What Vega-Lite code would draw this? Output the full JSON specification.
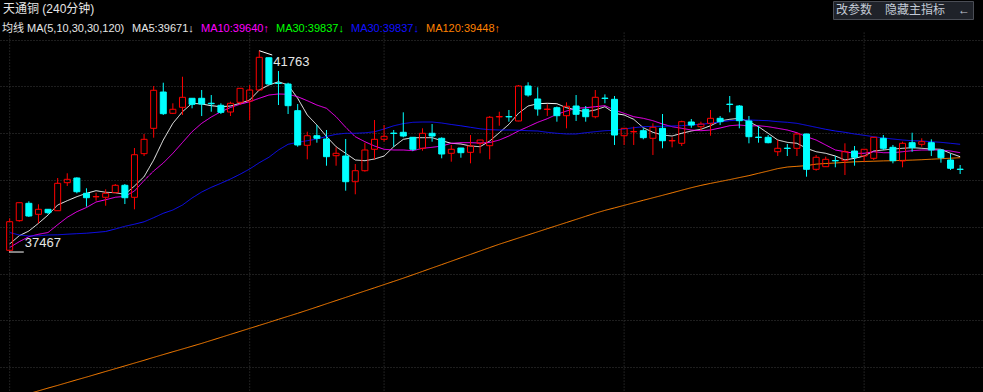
{
"$schema": "https://vega.github.io/schema/vega-lite/v6.json",
"width": 983, "height": 392, "autosize": {"type": "none"}, "padding": 0,
"background": "#000000",
"config": {"view": {"stroke": null},
 "axisX": {"domain": false, "ticks": false, "labels": false, "title": null, "grid": false},
 "axisY": {"domain": false, "ticks": false, "labels": false, "title": null, "grid": true, "gridColor": "#3c3c3c", "gridDash": [1, 2], "tickCount": 9}},
"title": {"text": "天通铜 (240分钟)", "anchor": "start", "frame": "group", "orient": "top", "offset": -16, "dx": 3, "color": "#e6e6e6", "fontSize": 12, "fontWeight": "normal", "font": "Liberation Sans, Noto Sans CJK SC"},
"datasets": {
"k": [
{"i":0,"o":37497,"h":38181,"l":37467,"c":38108,"m5":37632,"m10":37557,"m30":37877,"m120":null},
{"i":1,"o":38130,"h":38520,"l":38108,"c":38514,"m5":37809,"m10":37681,"m30":37824,"m120":null},
{"i":2,"o":38501,"h":38544,"l":38209,"c":38230,"m5":37909,"m10":37788,"m30":37803,"m120":34432},
{"i":3,"o":38266,"h":38480,"l":38074,"c":38373,"m5":38074,"m10":37839,"m30":37807,"m120":34492},
{"i":4,"o":38373,"h":38380,"l":38266,"c":38301,"m5":38251,"m10":37877,"m30":37824,"m120":34552},
{"i":5,"o":38343,"h":39042,"l":38340,"c":38929,"m5":38465,"m10":38044,"m30":37828,"m120":34609},
{"i":6,"o":38942,"h":39143,"l":38871,"c":39014,"m5":38557,"m10":38202,"m30":37841,"m120":34669},
{"i":7,"o":39042,"h":39057,"l":38715,"c":38749,"m5":38643,"m10":38322,"m30":37852,"m120":34729},
{"i":8,"o":38715,"h":38822,"l":38429,"c":38621,"m5":38715,"m10":38412,"m30":37862,"m120":34787},
{"i":9,"o":38640,"h":38728,"l":38557,"c":38645,"m5":38771,"m10":38529,"m30":37880,"m120":34847},
{"i":10,"o":38630,"h":38801,"l":38450,"c":38715,"m5":38737,"m10":38578,"m30":37899,"m120":34907},
{"i":11,"o":38728,"h":38914,"l":38720,"c":38886,"m5":38728,"m10":38630,"m30":37952,"m120":34966},
{"i":12,"o":38886,"h":38914,"l":38486,"c":38621,"m5":38694,"m10":38651,"m30":38010,"m120":35026},
{"i":13,"o":38630,"h":39683,"l":38373,"c":39540,"m5":38871,"m10":38764,"m30":38055,"m120":35086},
{"i":14,"o":39562,"h":39983,"l":39512,"c":39869,"m5":39070,"m10":38989,"m30":38106,"m120":35146},
{"i":15,"o":40104,"h":41009,"l":39904,"c":40917,"m5":39427,"m10":39192,"m30":38194,"m120":35208},
{"i":16,"o":40880,"h":41079,"l":40389,"c":40417,"m5":39854,"m10":39363,"m30":38288,"m120":35268},
{"i":17,"o":40425,"h":40639,"l":40410,"c":40511,"m5":40211,"m10":39570,"m30":38358,"m120":35328},
{"i":18,"o":40553,"h":41207,"l":40389,"c":40767,"m5":40459,"m10":39801,"m30":38465,"m120":35387},
{"i":19,"o":40746,"h":40750,"l":40532,"c":40617,"m5":40639,"m10":40032,"m30":38615,"m120":35447},
{"i":20,"o":40746,"h":40923,"l":40367,"c":40624,"m5":40624,"m10":40211,"m30":38743,"m120":35507},
{"i":21,"o":40640,"h":40816,"l":40459,"c":40630,"m5":40588,"m10":40346,"m30":38843,"m120":35571},
{"i":22,"o":40596,"h":40639,"l":40410,"c":40446,"m5":40566,"m10":40459,"m30":38929,"m120":35635},
{"i":23,"o":40453,"h":40673,"l":40367,"c":40639,"m5":40581,"m10":40549,"m30":39021,"m120":35700},
{"i":24,"o":40660,"h":40965,"l":40602,"c":40959,"m5":40639,"m10":40620,"m30":39123,"m120":35764},
{"i":25,"o":40688,"h":41030,"l":40282,"c":40923,"m5":40709,"m10":40673,"m30":39235,"m120":35828},
{"i":26,"o":40923,"h":41763,"l":40915,"c":41622,"m5":40923,"m10":40746,"m30":39369,"m120":35892},
{"i":27,"o":41613,"h":41615,"l":41030,"c":41051,"m5":41030,"m10":40816,"m30":39485,"m120":35956},
{"i":28,"o":41070,"h":41329,"l":40602,"c":41062,"m5":41100,"m10":40838,"m30":39641,"m120":36022},
{"i":29,"o":41051,"h":41079,"l":40410,"c":40588,"m5":41030,"m10":40831,"m30":39763,"m120":36086},
{"i":30,"o":40481,"h":40624,"l":39711,"c":39748,"m5":40746,"m10":40780,"m30":39805,"m120":36150},
{"i":31,"o":39741,"h":40032,"l":39442,"c":39946,"m5":40389,"m10":40694,"m30":39839,"m120":36217},
{"i":32,"o":39946,"h":40175,"l":39797,"c":39891,"m5":40175,"m10":40602,"m30":39876,"m120":36285},
{"i":33,"o":39876,"h":40068,"l":39305,"c":39498,"m5":39930,"m10":40532,"m30":39930,"m120":36354},
{"i":34,"o":39519,"h":39698,"l":39305,"c":39570,"m5":39711,"m10":40352,"m30":39976,"m120":36422},
{"i":35,"o":39512,"h":39876,"l":38771,"c":38963,"m5":39570,"m10":40126,"m30":39998,"m120":36490},
{"i":36,"o":38963,"h":39341,"l":38694,"c":39198,"m5":39427,"m10":39925,"m30":39998,"m120":36559},
{"i":37,"o":39198,"h":39797,"l":39177,"c":39641,"m5":39412,"m10":39818,"m30":40008,"m120":36627},
{"i":38,"o":39656,"h":40282,"l":39442,"c":39869,"m5":39448,"m10":39726,"m30":40030,"m120":36695},
{"i":39,"o":39869,"h":40175,"l":39818,"c":39933,"m5":39512,"m10":39656,"m30":40090,"m120":36764},
{"i":40,"o":40002,"h":40068,"l":39711,"c":39994,"m5":39711,"m10":39641,"m30":40158,"m120":36832},
{"i":41,"o":40019,"h":40446,"l":39912,"c":39940,"m5":39869,"m10":39641,"m30":40205,"m120":36901},
{"i":42,"o":39912,"h":39915,"l":39619,"c":39656,"m5":39904,"m10":39626,"m30":40233,"m120":36973},
{"i":43,"o":39677,"h":40104,"l":39626,"c":39998,"m5":39904,"m10":39677,"m30":40239,"m120":37046},
{"i":44,"o":39998,"h":40196,"l":39818,"c":39940,"m5":39904,"m10":39698,"m30":40239,"m120":37119},
{"i":45,"o":39891,"h":39912,"l":39463,"c":39555,"m5":39839,"m10":39726,"m30":40218,"m120":37191},
{"i":46,"o":39570,"h":39748,"l":39391,"c":39656,"m5":39784,"m10":39784,"m30":40186,"m120":37264},
{"i":47,"o":39683,"h":39685,"l":39476,"c":39583,"m5":39769,"m10":39797,"m30":40158,"m120":37337},
{"i":48,"o":39591,"h":39961,"l":39356,"c":39726,"m5":39726,"m10":39797,"m30":40126,"m120":37409},
{"i":49,"o":39784,"h":39858,"l":39570,"c":39854,"m5":39711,"m10":39790,"m30":40094,"m120":37482},
{"i":50,"o":39733,"h":40367,"l":39442,"c":40340,"m5":39833,"m10":39801,"m30":40075,"m120":37555},
{"i":51,"o":40348,"h":40459,"l":40160,"c":40356,"m5":40010,"m10":39854,"m30":40068,"m120":37627},
{"i":52,"o":40356,"h":40496,"l":40246,"c":40348,"m5":40190,"m10":39940,"m30":40068,"m120":37693},
{"i":53,"o":40261,"h":41030,"l":40255,"c":41009,"m5":40425,"m10":40047,"m30":40064,"m120":37760},
{"i":54,"o":41009,"h":41088,"l":40780,"c":40816,"m5":40581,"m10":40139,"m30":40053,"m120":37826},
{"i":55,"o":40731,"h":40981,"l":40374,"c":40517,"m5":40630,"m10":40233,"m30":40047,"m120":37892},
{"i":56,"o":40507,"h":40617,"l":40367,"c":40515,"m5":40639,"m10":40310,"m30":40019,"m120":37959},
{"i":57,"o":40545,"h":40570,"l":40246,"c":40374,"m5":40630,"m10":40404,"m30":39998,"m120":38025},
{"i":58,"o":40374,"h":40660,"l":40104,"c":40575,"m5":40545,"m10":40474,"m30":39983,"m120":38091},
{"i":59,"o":40581,"h":40816,"l":40261,"c":40404,"m5":40496,"m10":40532,"m30":39983,"m120":38157},
{"i":60,"o":40511,"h":40581,"l":40246,"c":40352,"m5":40459,"m10":40545,"m30":40010,"m120":38224},
{"i":61,"o":40352,"h":40923,"l":40318,"c":40767,"m5":40496,"m10":40566,"m30":40032,"m120":38290},
{"i":62,"o":40750,"h":40831,"l":40639,"c":40742,"m5":40566,"m10":40588,"m30":40053,"m120":38350},
{"i":63,"o":40724,"h":40795,"l":39748,"c":39961,"m5":40425,"m10":40496,"m30":40062,"m120":38403},
{"i":64,"o":39946,"h":40110,"l":39748,"c":40104,"m5":40389,"m10":40425,"m30":40090,"m120":38457},
{"i":65,"o":40028,"h":40139,"l":39748,"c":40036,"m5":40297,"m10":40352,"m30":40117,"m120":38512},
{"i":66,"o":40053,"h":40104,"l":39869,"c":39904,"m5":40117,"m10":40318,"m30":40139,"m120":38566},
{"i":67,"o":39891,"h":40211,"l":39534,"c":40126,"m5":40019,"m10":40267,"m30":40147,"m120":38619},
{"i":68,"o":40104,"h":40410,"l":39677,"c":39839,"m5":39961,"m10":40196,"m30":40147,"m120":38672},
{"i":69,"o":39835,"h":39912,"l":39698,"c":39843,"m5":39940,"m10":40139,"m30":40154,"m120":38726},
{"i":70,"o":39784,"h":40267,"l":39726,"c":40246,"m5":39998,"m10":40104,"m30":40160,"m120":38781},
{"i":71,"o":40239,"h":40303,"l":40117,"c":40175,"m5":40047,"m10":40068,"m30":40175,"m120":38835},
{"i":72,"o":40139,"h":40246,"l":40068,"c":40196,"m5":40083,"m10":40053,"m30":40190,"m120":38884},
{"i":73,"o":40211,"h":40496,"l":39946,"c":40318,"m5":40160,"m10":40068,"m30":40211,"m120":38927},
{"i":74,"o":40318,"h":40367,"l":40175,"c":40246,"m5":40261,"m10":40111,"m30":40243,"m120":38967},
{"i":75,"o":40621,"h":40795,"l":40446,"c":40613,"m5":40297,"m10":40160,"m30":40267,"m120":39008},
{"i":76,"o":40581,"h":40602,"l":40104,"c":40267,"m5":40318,"m10":40175,"m30":40282,"m120":39051},
{"i":77,"o":40261,"h":40367,"l":39784,"c":39925,"m5":40246,"m10":40154,"m30":40282,"m120":39093},
{"i":78,"o":39916,"h":40154,"l":39797,"c":39908,"m5":40139,"m10":40160,"m30":40275,"m120":39143},
{"i":79,"o":39912,"h":39961,"l":39784,"c":39797,"m5":39998,"m10":40139,"m30":40267,"m120":39192},
{"i":80,"o":39604,"h":39854,"l":39512,"c":39677,"m5":39854,"m10":40104,"m30":40246,"m120":39243},
{"i":81,"o":39681,"h":39769,"l":39512,"c":39673,"m5":39805,"m10":40068,"m30":40233,"m120":39277},
{"i":82,"o":39677,"h":40010,"l":39512,"c":39983,"m5":39784,"m10":40010,"m30":40211,"m120":39292},
{"i":83,"o":39983,"h":39990,"l":39070,"c":39228,"m5":39677,"m10":39925,"m30":40169,"m120":39307},
{"i":84,"o":39228,"h":39534,"l":39198,"c":39485,"m5":39604,"m10":39854,"m30":40126,"m120":39339},
{"i":85,"o":39284,"h":39498,"l":39278,"c":39442,"m5":39570,"m10":39748,"m30":40083,"m120":39352},
{"i":86,"o":39416,"h":39512,"l":39271,"c":39408,"m5":39512,"m10":39641,"m30":40047,"m120":39363},
{"i":87,"o":39412,"h":39784,"l":39106,"c":39604,"m5":39427,"m10":39604,"m30":40019,"m120":39376},
{"i":88,"o":39619,"h":39726,"l":39305,"c":39485,"m5":39463,"m10":39570,"m30":39983,"m120":39388},
{"i":89,"o":39512,"h":39660,"l":39391,"c":39656,"m5":39512,"m10":39570,"m30":39955,"m120":39395},
{"i":90,"o":39463,"h":39916,"l":39427,"c":39912,"m5":39619,"m10":39604,"m30":39925,"m120":39401},
{"i":91,"o":39891,"h":39961,"l":39641,"c":39677,"m5":39641,"m10":39583,"m30":39897,"m120":39408},
{"i":92,"o":39698,"h":39748,"l":39356,"c":39412,"m5":39662,"m10":39583,"m30":39876,"m120":39412},
{"i":93,"o":39406,"h":39818,"l":39271,"c":39784,"m5":39677,"m10":39604,"m30":39854,"m120":39418},
{"i":94,"o":39797,"h":40010,"l":39604,"c":39690,"m5":39690,"m10":39626,"m30":39839,"m120":39425},
{"i":95,"o":39763,"h":39891,"l":39711,"c":39818,"m5":39677,"m10":39641,"m30":39833,"m120":39433},
{"i":96,"o":39797,"h":39869,"l":39512,"c":39641,"m5":39662,"m10":39641,"m30":39818,"m120":39444},
{"i":97,"o":39641,"h":39645,"l":39369,"c":39476,"m5":39656,"m10":39641,"m30":39805,"m120":39455},
{"i":98,"o":39427,"h":39555,"l":39213,"c":39250,"m5":39570,"m10":39619,"m30":39784,"m120":39465},
{"i":99,"o":39232,"h":39320,"l":39128,"c":39224,"m5":39498,"m10":39583,"m30":39763,"m120":39476}
],
"ann": [
{"i":26,"p":41763,"i2":27.35,"p2":41671,"t":"41763","k":"max"},
{"i":-0.07,"p":37460,"i2":1.47,"p2":37460,"t":"37467","k":"min"}
],
"vg": [{"g":0},{"g":25},{"g":39},{"g":64},{"g":89}]
},
"layer": [
{"data": {"name": "vg"},
 "mark": {"type": "rule", "color": "#3c3c3c", "strokeDash": [1, 2], "strokeWidth": 1},
 "encoding": {
  "x": {"field": "g", "type": "quantitative", "scale": {"domain": [-0.485, 100.86], "nice": false, "zero": false}},
  "y": {"datum": 42150, "type": "quantitative", "scale": {"domain": [34468, 42847], "nice": false, "zero": false}},
  "y2": {"datum": 34468}}},
{"data": {"name": "k"},
 "transform": [{"fold": ["m5", "m10", "m30", "m120"], "as": ["s", "v"]}],
 "mark": {"type": "line", "clip": true, "strokeWidth": 1},
 "encoding": {
  "x": {"field": "i", "type": "quantitative"},
  "y": {"field": "v", "type": "quantitative"},
  "color": {"field": "s", "type": "nominal",
   "scale": {"domain": ["hdr", "m5", "m10", "m30g", "m30", "m120"], "range": ["#e6e6e6", "#ffffff", "#ff00ff", "#00ff00", "#1010ff", "#ff8000"]},
   "legend": {"orient": "none", "legendX": 3, "legendY": 23, "direction": "horizontal", "title": null,
    "symbolSize": 0.01, "symbolOpacity": 0, "symbolStrokeWidth": 0, "labelOffset": -12, "columnPadding": 7,
    "labelFont": "Liberation Sans, Noto Sans CJK SC", "labelFontSize": 11, "labelLimit": 300,
    "labelExpr": "datum.value=='hdr'?'均线 MA(5,10,30,30,120)':datum.value=='m5'?'MA5:39671↓':datum.value=='m10'?'MA10:39640↑':datum.value=='m30g'?'MA30:39837↓':datum.value=='m30'?'MA30:39837↓':'MA120:39448↑'",
    "labelColor": {"expr": "datum.value=='m10'?'#ff00ff':datum.value=='m30g'?'#00ff00':datum.value=='m30'?'#1010ff':datum.value=='m120'?'#ff8000':'#e6e6e6'"}}},
  "strokeDash": {"datum": "改参数", "type": "nominal",
   "scale": {"domain": ["改参数", "隐藏主指标", "←"], "range": [[1, 0], [1, 0], [1, 0]]},
   "legend": {"orient": "none", "legendX": 833, "legendY": 1, "direction": "horizontal", "title": null,
    "symbolSize": 0.01, "symbolOpacity": 0, "symbolStrokeWidth": 0, "labelOffset": -12, "columnPadding": 12,
    "fillColor": "#1f2229", "strokeColor": "#4a4d55", "padding": 3,
    "labelFont": "Liberation Sans, Noto Sans CJK SC", "labelFontSize": 12, "labelColor": "#c3cad6"}}}},
{"data": {"name": "k"},
 "transform": [{"filter": "datum.c >= datum.o"}],
 "mark": {"type": "rule", "color": "#ff0000", "strokeWidth": 1},
 "encoding": {"x": {"field": "i", "type": "quantitative"}, "y": {"field": "c", "type": "quantitative"}, "y2": {"field": "h"}}},
{"data": {"name": "k"},
 "transform": [{"filter": "datum.c >= datum.o"}],
 "mark": {"type": "rule", "color": "#ff0000", "strokeWidth": 1},
 "encoding": {"x": {"field": "i", "type": "quantitative"}, "y": {"field": "l", "type": "quantitative"}, "y2": {"field": "o"}}},
{"data": {"name": "k"},
 "transform": [{"filter": "datum.c < datum.o"}],
 "mark": {"type": "rule", "color": "#00ffff", "strokeWidth": 1},
 "encoding": {"x": {"field": "i", "type": "quantitative"}, "y": {"field": "l", "type": "quantitative"}, "y2": {"field": "h"}}},
{"data": {"name": "k"},
 "mark": {"type": "bar", "size": 6, "strokeWidth": 1},
 "encoding": {
  "x": {"field": "i", "type": "quantitative"},
  "y": {"field": "o", "type": "quantitative"}, "y2": {"field": "c"},
  "fill": {"condition": {"test": "datum.c >= datum.o", "value": "transparent"}, "value": "#00ffff"},
  "stroke": {"condition": {"test": "datum.c >= datum.o", "value": "#ff0000"}, "value": "#00ffff"}}},
{"data": {"name": "ann"},
 "mark": {"type": "rule", "color": "#ffffff", "strokeWidth": 1},
 "encoding": {"x": {"field": "i", "type": "quantitative"}, "x2": {"field": "i2"}, "y": {"field": "p", "type": "quantitative"}, "y2": {"field": "p2"}}},
{"data": {"name": "ann"},
 "transform": [{"filter": "datum.k == 'max'"}],
 "mark": {"type": "text", "align": "left", "baseline": "top", "dx": 1, "dy": 1, "color": "#e6e6e6", "fontSize": 13, "font": "Liberation Sans"},
 "encoding": {"x": {"field": "i2", "type": "quantitative"}, "y": {"field": "p2", "type": "quantitative"}, "text": {"field": "t"}}},
{"data": {"name": "ann"},
 "transform": [{"filter": "datum.k == 'min'"}],
 "mark": {"type": "text", "align": "left", "baseline": "bottom", "dx": 1, "dy": -2, "color": "#e6e6e6", "fontSize": 13, "font": "Liberation Sans"},
 "encoding": {"x": {"field": "i2", "type": "quantitative"}, "y": {"field": "p2", "type": "quantitative"}, "text": {"field": "t"}}}
]
}
